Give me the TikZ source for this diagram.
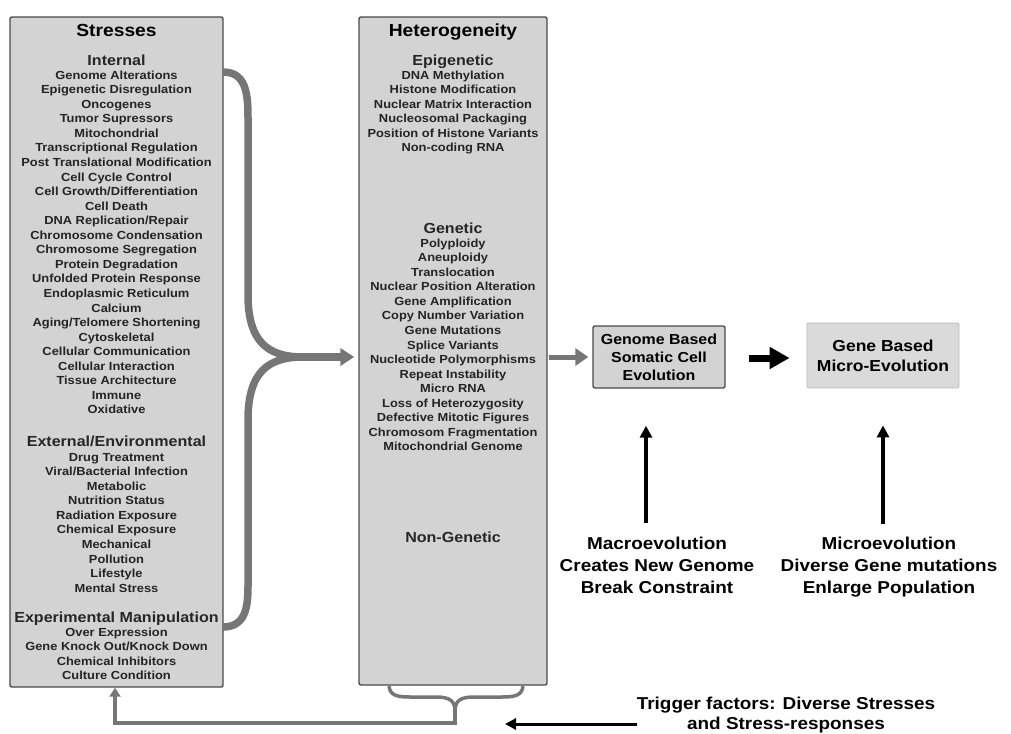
\documentclass[tikz,border=0pt]{standalone}
\usepackage{fontspec}
\setmainfont{Liberation Sans}[FakeStretch=1.1]
\usetikzlibrary{positioning,arrows.meta,calc}
\definecolor{boxgray}{HTML}{D3D3D3}
\definecolor{edgegray}{HTML}{4A4A4A}
\definecolor{flowgray}{HTML}{767676}
\definecolor{inkgray}{HTML}{242424}

\tikzset{
  panel/.style={draw=edgegray, line width=1.4pt, fill=boxgray, rounded corners=2pt, inner sep=0pt},
  title/.style={font=\bfseries\fontsize{17.5}{20}\selectfont, anchor=base},
  head/.style={font=\bfseries\fontsize{14.6}{18}\selectfont, text=black!85, anchor=base},
  item/.style={font=\bfseries\fontsize{11.7}{14}\selectfont, text=inkgray, inner sep=0pt, anchor=base},
  note/.style={font=\bfseries\fontsize{17.2}{22}\selectfont, align=center, inner sep=0pt, anchor=north},
  flow/.style={draw=flowgray, line width=7.5pt},
  ret/.style={draw=flowgray, line width=3.5pt},
  up/.style={line width=4pt, -{Triangle[width=12pt,length=12pt]}},
}

\begin{document}
\begin{tikzpicture}[x=1pt, y=-1pt]
  \useasboundingbox (0,0) rectangle (1011,733);

  % panels
  \node[panel, minimum width=213pt, minimum height=670pt] (stress) at (116.5,352) {};
  \node[panel, minimum width=188pt, minimum height=668pt] (hetero) at (453,351) {};
  \node[panel, minimum width=132pt, minimum height=62pt, align=center,
        font=\bfseries\fontsize{14.5}{18}\selectfont] (genome) at (659,357)
        {Genome Based\\Somatic Cell\\Evolution};
  \node[panel, draw=gray!55, line width=0.8pt, fill=boxgray!85, minimum width=152pt, minimum height=65pt,
        align=center, font=\bfseries\fontsize{15.9}{20}\selectfont] (gene) at (883,355.5)
        {Gene Based\\Micro-Evolution};

  % stresses
  \node[title] (stressT) at (116.5,36.3) {Stresses};
  \node[head] (internal) at (116.5,65.2) {Internal};
  \foreach \t [count=\i from 0] in {Genome Alterations, Epigenetic Disregulation, Oncogenes,
      Tumor Supressors, Mitochondrial, Transcriptional Regulation, Post Translational Modification,
      Cell Cycle Control, Cell Growth/Differentiation, Cell Death, DNA Replication/Repair,
      Chromosome Condensation, Chromosome Segregation, Protein Degradation,
      Unfolded Protein Response, Endoplasmic Reticulum, Calcium, Aging/Telomere Shortening,
      Cytoskeletal, Cellular Communication, Cellular Interaction, Tissue Architecture,
      Immune, Oxidative}
    \node[item] (int\i) at (116.5,{79.2+14.55*\i}) {\t};
  \node[head] (external) at (116.5,446.2) {External/Environmental};
  \foreach \t [count=\i from 0] in {Drug Treatment, Viral/Bacterial Infection, Metabolic,
      Nutrition Status, Radiation Exposure, Chemical Exposure, Mechanical, Pollution,
      Lifestyle, Mental Stress}
    \node[item] (ext\i) at (116.5,{461.2+14.55*\i}) {\t};
  \node[head] (experim) at (116.5,622.2) {Experimental Manipulation};
  \foreach \t [count=\i from 0] in {Over Expression, Gene Knock Out/Knock Down,
      Chemical Inhibitors, Culture Condition}
    \node[item] (exp\i) at (116.5,{636.2+14.55*\i}) {\t};

  % heterogeneity
  \node[title] (heteroT) at (453,36.3) {Heterogeneity};
  \node[head] (epigen) at (453,65.2) {Epigenetic};
  \foreach \t [count=\i from 0] in {DNA Methylation, Histone Modification,
      Nuclear Matrix Interaction, Nucleosomal Packaging, Position of Histone Variants,
      Non-coding RNA}
    \node[item] (epi\i) at (453,{79.2+14.55*\i}) {\t};
  \node[head] (genetic) at (453,233.2) {Genetic};
  \foreach \t [count=\i from 0] in {Polyploidy, Aneuploidy, Translocation,
      Nuclear Position Alteration, Gene Amplification, Copy Number Variation,
      Gene Mutations, Splice Variants, Nucleotide Polymorphisms, Repeat Instability,
      Micro RNA, Loss of Heterozygosity, Defective Mitotic Figures,
      Chromosom Fragmentation, Mitochondrial Genome}
    \node[item] (gen\i) at (453,{247.2+14.55*\i}) {\t};
  \node[head] (nongen) at (453,542.2) {Non-Genetic};

  % notes
  \node[note] (macro) at (657,536.5) {Macroevolution\\Creates New Genome\\Break Constraint};
  \node[note] (micro) at (889,536.5) {Microevolution\\Diverse Gene mutations\\Enlarge Population};
  \node[note, font=\bfseries\fontsize{17.2}{20}\selectfont] (trigger) at (786,697)
        {Trigger factors: Diverse Stresses\\and Stress-responses};

  % big brace into heterogeneity
  \coordinate (upIn) at (223,72);
  \coordinate (loIn) at (223,627);
  \coordinate (join) at (303,357);
  \draw[flow] (upIn) .. controls (249,72) and (248,100) .. (248,125) -- (248,295)
        .. controls (248,342) and (268,357) .. (join);
  \draw[flow] (loIn) .. controls (249,627) and (248,600) .. (248,580) -- (248,420)
        .. controls (248,372) and (268,357) .. (join);
  \draw[flow, -{Triangle[width=17pt,length=14pt]}, shorten >=4pt] (join) -- (hetero.west |- join);

  % forward arrows
  \draw[flow, line width=5pt, -{Triangle[width=17pt,length=13pt]}, shorten <=1pt, shorten >=4pt]
        (hetero.east |- genome) -- (genome.west);
  \draw[line width=7pt, -{Triangle[width=21pt,length=20pt]}, shorten <=23pt, shorten >=17pt]
        (genome.east |- 0,358) -- (gene.west |- 0,358);
  \draw[up] ([xshift=-11pt, yshift=14pt]macro.north) -- ([xshift=-13pt, yshift=-37pt]genome.south);
  \draw[up] ([xshift=-6pt, yshift=13pt]micro.north) -- ([yshift=-37pt]gene.south);

  % feedback loop
  \coordinate (brL) at (389,686);
  \coordinate (brR) at (523,686);
  \coordinate (brMid) at (455,711);
  \coordinate (retX) at (115,723);
  \draw[ret] (brL) .. controls (390,695) and (396,697) .. (410,697) -- (436,697)
        .. controls (450,697) and (455,701) .. (brMid);
  \draw[ret] (brR) .. controls (522,695) and (516,697) .. (502,697) -- (474,697)
        .. controls (460,697) and (455,701) .. (brMid);
  \draw[ret, -{Triangle[width=11pt,length=9pt]}] (brMid) |- (retX) -- (retX |- stress.south);
  \coordinate (trigTip) at (505,724);
  \draw[line width=3pt, -{Triangle[width=11pt,length=11pt]}] (trigger.west |- trigTip) -- (trigTip);
\end{tikzpicture}
\end{document}
